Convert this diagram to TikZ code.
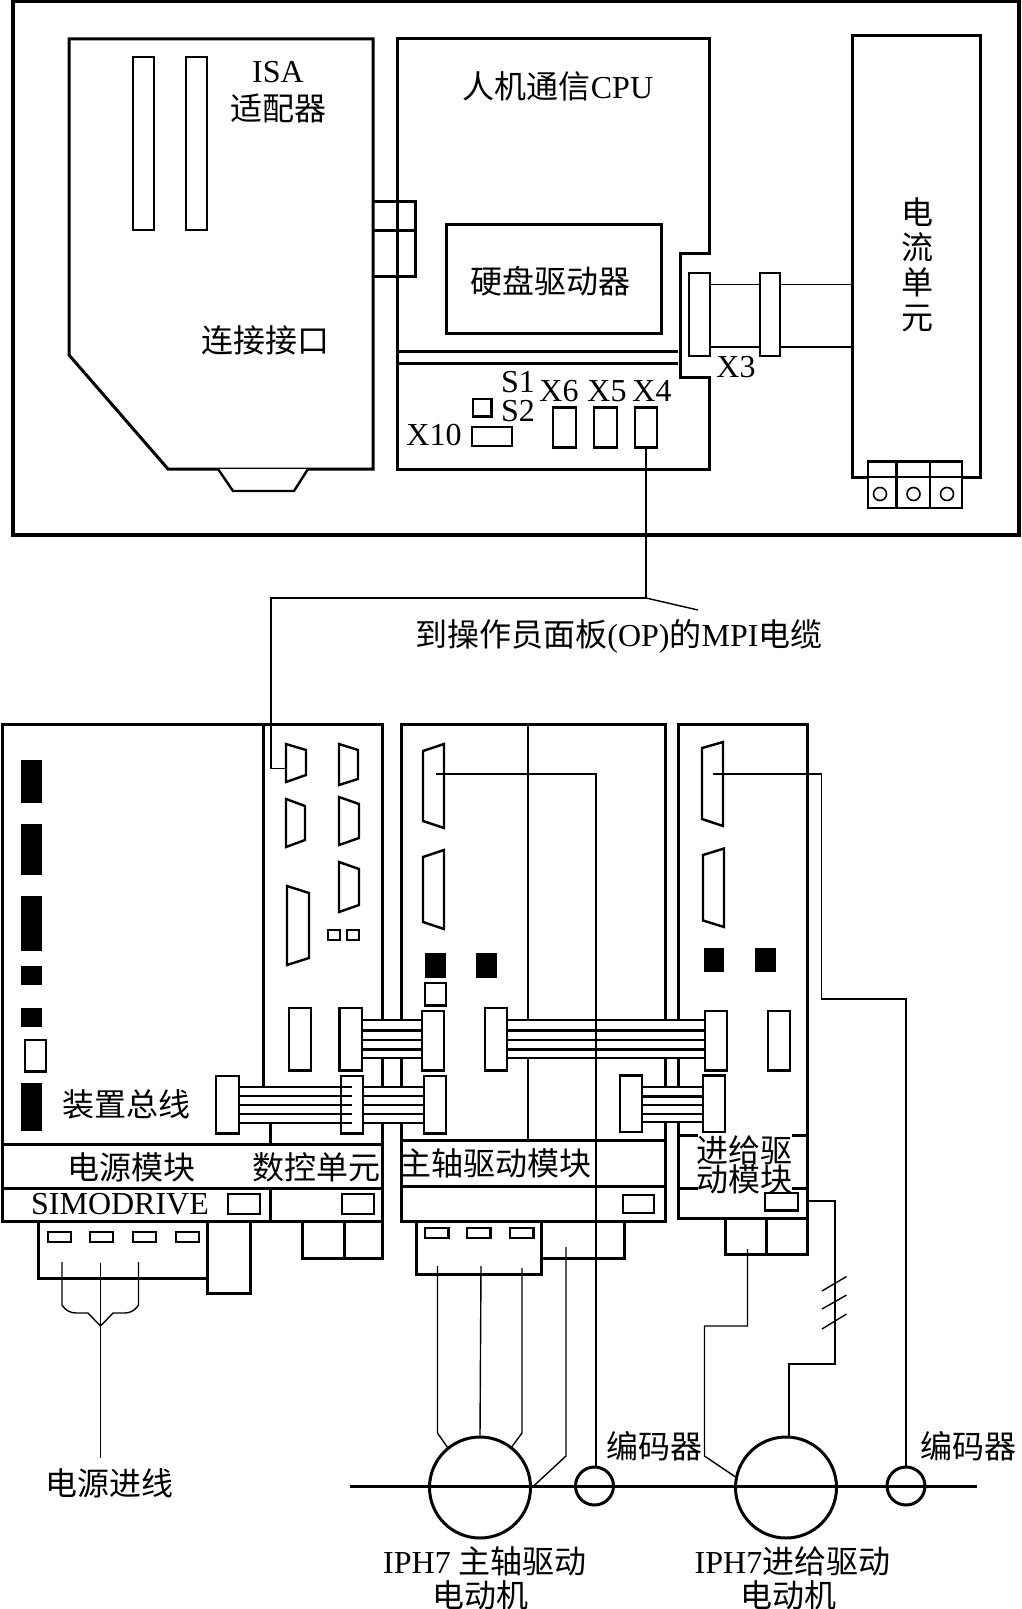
\documentclass[tikz,border=0pt]{standalone}
\usepackage{xcolor}
\usepackage{fontspec}
\setmainfont{Liberation Serif}
\newfontfamily\cjk{Noto Sans CJK SC}
\usepackage{tikz}
\usetikzlibrary{shapes,arrows,positioning,calc}

\tikzset{
  frame/.style={line width=2pt},
  box/.style={line width=1.5pt},
  part/.style={line width=1.2pt, fill=white},
  busline/.style={line width=1.2pt},
  wire/.style={line width=0.7pt},
  socket/.style={draw, line width=1.2pt, fill=white, inner sep=0pt, outer sep=0pt},
  txt/.style={inner sep=0pt, font=\fontsize{16}{17.5}\selectfont, align=center}
}

\begin{document}
\begin{tikzpicture}[x=0.5pt, y=-0.5pt]
    \useasboundingbox (0,0) rectangle (1021,1609);

    % Industrial PC
    \draw[frame] (13,1) rectangle (1019,535);
    \draw[box] (69,39) -- (373,39) -- (373,469) -- (168,469) -- (69,355) -- cycle;
    \draw[part] (133,57) rectangle (154,230);
    \draw[part] (186,57) rectangle (207,230);
    \draw[part] (218,469) -- (233,491) -- (294,491) -- (308,469);
    \draw[box] (397,39) -- (709,39) -- (709,254) -- (680,254) -- (680,378) -- (709,378) -- (709,469) -- (397,469) -- cycle;
    \draw[box] (373,202) -- (415,202) -- (415,277) -- (373,277);
    \draw[box] (373,231) -- (415,231);
    \draw[box] (446,225) rectangle (661,334);
    \draw[box] (397,352) -- (678,352);
    \draw[box] (397,364) -- (678,364);

    % Current unit and X3
    \draw[box] (852,36) rectangle (980,477);
    \node[socket, minimum width=10.5pt, minimum height=41.5pt] (xa) at (699.5,314.5) {};
    \node[socket, minimum width=10pt, minimum height=41.5pt] (xb) at (770,314.5) {};
    \coordinate (cellA) at (852,284.5);
    \coordinate (cellB) at (852,347);
    \draw[wire, line width=0.8pt] (xa.east |- cellA) -- (xb.west |- cellA);
    \draw[wire, line width=0.8pt] (xa.east |- cellB) -- (xb.west |- cellB);
    \draw[wire, line width=0.8pt] (xb.east |- cellA) -- (cellA);
    \draw[wire, line width=0.8pt] (xb.east |- cellB) -- (cellB);
    \draw[part] (868,461.5) rectangle (962,508);
    \draw[part] (896.5,461.5) -- (896.5,508);
    \draw[part] (930,461.5) -- (930,508);
    \draw[part] (868,477) -- (962,477);
    \foreach \x in {880,913.5,947}
        \draw[line width=0.8pt] (\x,494) circle (6.5);

    % Ports on the CPU board
    \draw[part] (473,399) rectangle (491.5,416.5);
    \draw[part] (472,427) rectangle (512,446);
    \draw[part] (553,407.5) rectangle (576,447.5);
    \draw[part] (594,407.5) rectangle (617,447.5);
    \node[socket, minimum width=11.25pt, minimum height=20pt] (xfour) at (646,427.5) {};

    % Supply and NC unit
    \draw[box] (2,724.5) -- (382,724.5) -- (382,1221) -- (2,1221) -- cycle;
    \draw[box] (263,724.5) -- (263,1087);
    \draw[box] (270,1123) -- (270,1144);
    \draw[box] (270,1188) -- (270,1221);
    \draw[box] (2,1144) -- (382,1144);
    \draw[box] (2,1188) -- (382,1188);
    \foreach \ya/\yb in {760/803, 824/874.5, 896/951, 966/985, 1008/1026.5, 1083/1131}
        \fill (21,\ya) rectangle (42,\yb);
    \draw[part] (25,1040) rectangle (46,1071.5);

    \draw[part] (286,744) -- (306,750) -- (306,775) -- (286,782) -- cycle;
    \draw[part] (339,744) -- (358,750) -- (358,779) -- (339,785) -- cycle;
    \draw[part] (286,799) -- (305,806) -- (305,840) -- (286,847) -- cycle;
    \draw[part] (339,797) -- (359,804) -- (359,838) -- (339,845) -- cycle;
    \draw[part] (339,862) -- (359,869) -- (359,905) -- (339,912) -- cycle;
    \draw[part] (287,886) -- (309,893) -- (309,958) -- (287,965) -- cycle;
    \draw[part] (328,930) rectangle (340,940);
    \draw[part] (347,930) rectangle (359,940);
    \draw[part] (289,1008) rectangle (311,1070.5);
    \draw[part] (228,1194) rectangle (260,1214);
    \draw[part] (342,1194) rectangle (374,1214);

    % Plugs under supply and NC unit
    \draw[box] (38,1221) -- (38,1278) -- (207,1278);
    \draw[box] (207,1221) -- (207,1293.5) -- (250.5,1293.5) -- (250.5,1221);
    \foreach \x in {48,90,133,176}
        \draw[part] (\x,1232) rectangle ++(23,10);
    \draw[box] (302,1221) -- (302,1258) -- (382,1258) -- (382,1221);
    \draw[box] (344,1221) -- (344,1258);

    % Spindle module
    \draw[box] (401,724.5) rectangle (665,1221);
    \draw[box] (401,1140.5) -- (665,1140.5);
    \draw[box] (401,1186.5) -- (665,1186.5);
    \draw[wire] (528,724.5) -- (528,1140.5);
    \draw[part] (423,751) -- (444,744) -- (444,828) -- (423,821) -- cycle;
    \draw[part] (423,857) -- (444,850) -- (444,929) -- (423,922) -- cycle;
    \fill (425,953) rectangle (446,978);
    \fill (476,953) rectangle (497,978);
    \draw[part] (425,983) rectangle (446,1005.5);
    \draw[part] (623,1195) rectangle (654,1213);
    \draw[box] (416,1221) -- (416,1274.5) -- (541,1274.5) -- (541,1221);
    \draw[box] (541,1258) -- (624,1258) -- (624,1221);
    \foreach \x in {425,467,510}
        \draw[part] (\x,1228) rectangle ++(23.5,10);

    % Feed module
    \draw[box] (678,724.5) -- (807,724.5) -- (807,1218) -- (678,1218) -- cycle;
    \draw[box] (678,1135) -- (698,1135);
    \draw[box] (792,1135) -- (807,1135);
    \draw[box] (678,1188.5) -- (698,1188.5);
    \draw[box] (792,1188.5) -- (807,1188.5);
    \draw[part] (702,748) -- (723,742) -- (723,826) -- (702,819) -- cycle;
    \draw[part] (703,855) -- (724,848.5) -- (724,927) -- (703,920.5) -- cycle;
    \fill (704,948) rectangle (724,972);
    \fill (755,948) rectangle (776,972);
    \draw[part] (768,1011) rectangle (790,1070.5);
    \draw[part] (765,1193) rectangle (798,1210.5);
    \draw[box] (725,1218) -- (725,1254.5) -- (807,1254.5) -- (807,1218);
    \draw[box] (766,1218) -- (766,1254.5);

    % Upper bus
    \fill[white] (362,1020) rectangle (422,1058);
    \foreach \y in {1020,1030.5,1040,1049.5,1058}
        \draw[busline] (362,\y) -- (422,\y);
    \draw[part] (339.5,1008) rectangle (362,1070.5);
    \draw[part] (422,1011) rectangle (444,1070.5);

    \fill[white] (507,1020) rectangle (705,1058);
    \foreach \y in {1020,1030.5,1040,1049.5,1058}
        \draw[busline] (507,\y) -- (705,\y);
    \draw[part] (485,1008) rectangle (507,1070.5);
    \draw[part] (705,1011) rectangle (727,1070.5);

    % Lower bus
    \fill[white] (239,1087) rectangle (424,1123);
    \draw[part] (216,1076) rectangle (239,1133.5);
    \draw[part] (341,1076) rectangle (363,1133.5);
    \draw[part] (424,1076) rectangle (446,1133.5);
    \foreach \y in {1087,1096,1105,1114,1123} {
        \draw[busline] (239,\y) -- (352,\y);
        \draw[busline] (363,\y) -- (424,\y);
    }
    \fill[white] (642,1087) rectangle (703,1122);
    \foreach \y in {1087,1096.5,1105,1114,1122}
        \draw[busline] (642,\y) -- (703,\y);
    \draw[part] (620,1075.5) rectangle (642,1132);
    \draw[part] (703,1075.5) rectangle (725,1132);

    % Motors
    \draw[line width=1.5pt] (350,1486.5) -- (977,1486.5);
    \node[draw, circle, line width=1.5pt, minimum size=50.5pt, inner sep=0pt] (motorA) at (480,1487.5) {};
    \node[draw, circle, line width=1.5pt, minimum size=19pt, inner sep=0pt] (encA) at (594.5,1486) {};
    \node[draw, circle, line width=1.5pt, minimum size=50.5pt, inner sep=0pt] (motorB) at (786,1487.5) {};
    \node[draw, circle, line width=1.5pt, minimum size=19pt, inner sep=0pt] (encB) at (906,1486) {};

    % Wires
    \coordinate (opA) at (285.5,768.5);
    \coordinate (opB) at (646,598);
    \coordinate (spA) at (436,774);
    \coordinate (fdA) at (713,774);
    \coordinate (fdB) at (807,1201);
    \coordinate (leadA) at (698,610);
    \draw[wire] (xfour.south) -- (opB) -- (271,598) -- (271,768.5) -- (opA);
    \draw[wire] (opB) -- (leadA);
    \draw[wire] (spA) -- (596,774) -- (encA.north -| 596,0);
    \draw[wire] (fdA) -- (821.5,774) -- (821.5,999) -- (906,999) -- (encB.north);
    \draw[wire] (fdB) -- (835,1201) -- (835,1364) -- (789,1364) -- (motorB.north -| 789,0);
    \draw[wire] (822,1291) -- (846.5,1276.5);
    \draw[wire] (822,1309) -- (846.5,1295);
    \draw[wire] (822,1329) -- (846.5,1314);
    \draw[wire] (437.5,1266) -- (437.5,1433) -- (motorA.129);
    \draw[wire] (motorA.north) -- (481,1266);
    \draw[wire] (522,1268) -- (522,1433) -- (motorA.52);
    \draw[wire] (566,1247) -- (566,1456) -- (motorA.east);
    \draw[wire] (747.5,1249) -- (747.5,1326) -- (704.5,1326) -- (704.5,1456) -- (motorB.168);

    % Mains brace
    \coordinate (brace) at (100.5,1326);
    \draw[wire] (100.5,1263) -- (100.5,1458);
    \draw[wire] (62,1262) -- (62,1305) .. controls (65,1310) and (70,1313) .. (76,1313) -- (88,1313) -- (brace);
    \draw[wire] (138.5,1262) -- (138.5,1305) .. controls (135.5,1310) and (130.5,1313) .. (125,1313) -- (113,1313) -- (brace);

    % Labels
    \node[txt] (isa) at (278,72) {ISA};
    \node[txt] (adapter) at (278,108.5) {\cjk 适配器};
    \node[txt] (cpu) at (558,86) {{\cjk 人机通信}CPU};
    \node[txt] (disk) at (550,281) {\cjk 硬盘驱动器};
    \node[txt] (link) at (265,340) {\cjk 连接接口};
    \node[txt] (curr) at (917,265) {\cjk 电\\\cjk 流\\\cjk 单\\\cjk 元};
    \node[txt] (sone) at (518,382) {S1};
    \node[txt] (stwo) at (518,411) {S2};
    \node[txt] (xsix) at (559,391) {X6};
    \node[txt] (xfive) at (607,391) {X5};
    \node[txt] (xfourtxt) at (652,391) {X4};
    \node[txt] (xten) at (434,435) {X10};
    \node[txt] (xthree) at (736,367) {X3};
    \node[txt] (mpi) at (619,636) {{\cjk 到操作员面板}(OP){\cjk 的}MPI{\cjk 电缆}};
    \node[txt] (devbus) at (126,1104) {\cjk 装置总线};
    \node[txt] (supply) at (131.5,1167) {\cjk 电源模块};
    \node[txt] (ncunit) at (316,1167) {\cjk 数控单元};
    \node[txt] (simo) at (120,1204.5) {SIMODRIVE};
    \node[txt] (spindle) at (495,1163) {\cjk 主轴驱动模块};
    \node[txt] (feedA) at (744,1150) {\cjk 进给驱};
    \node[txt] (feedB) at (744,1179) {\cjk 动模块};
    \node[txt] (mains) at (109,1483) {\cjk 电源进线};
    \node[txt] (encAtxt) at (654.5,1446) {\cjk 编码器};
    \node[txt] (encBtxt) at (968,1446) {\cjk 编码器};
    \node[txt] (iphA) at (485,1561) {IPH7 {\cjk 主轴驱动}};
    \node[txt] (elecA) at (480.5,1595) {\cjk 电动机};
    \node[txt] (iphB) at (792.5,1561) {IPH7{\cjk 进给驱动}};
    \node[txt] (elecB) at (788,1595) {\cjk 电动机};
\end{tikzpicture}
\end{document}
